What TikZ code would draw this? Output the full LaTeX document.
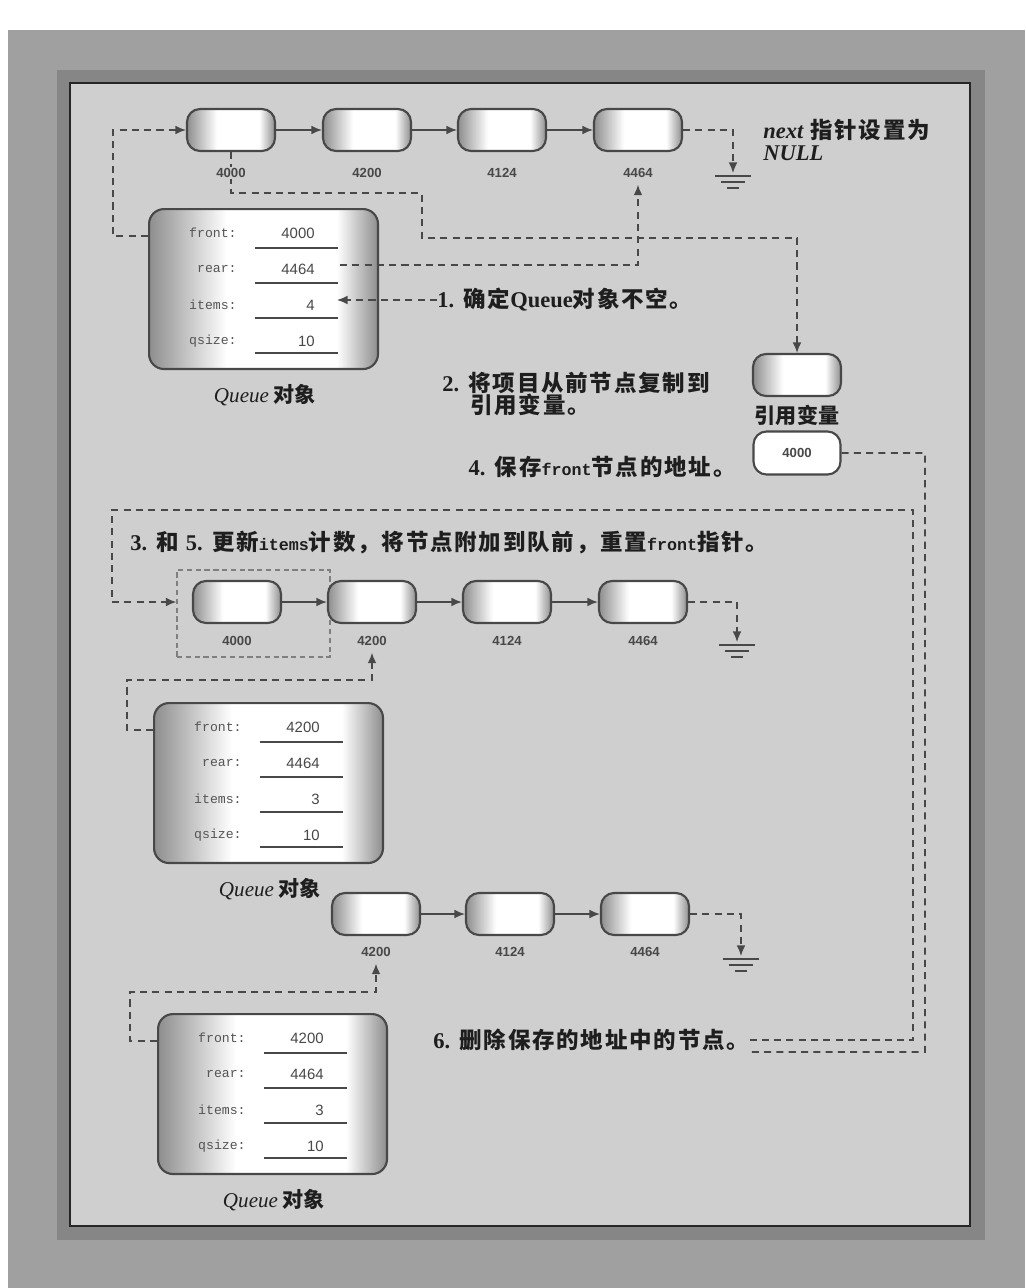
\documentclass[tikz,border=0pt]{standalone}
\usepackage{fontspec}
\setmainfont{Liberation Serif}
\setsansfont{Liberation Sans}
\setmonofont{Liberation Mono}
\newfontfamily\cjk{Noto Sans CJK SC}[LetterSpace=8]
\newfontfamily\cjklab{Noto Sans CJK SC}
\usetikzlibrary{arrows.meta}
\definecolor{outergray}{HTML}{A0A0A0}
\definecolor{shadowgray}{HTML}{868686}
\definecolor{panelgray}{HTML}{CFCFCF}
\definecolor{sgray}{HTML}{8E8E8E}
\definecolor{linegray}{HTML}{484848}
\definecolor{txt}{HTML}{1E1E1E}
\definecolor{fldgray}{HTML}{555555}
\pgfdeclarehorizontalshading{boxshade}{100bp}{color(0bp)=(sgray); color(25bp)=(sgray); color(42bp)=(white); color(66bp)=(white); color(75bp)=(sgray); color(100bp)=(sgray)}
\newcommand\latit[1]{{\rmfamily\itshape #1}}
\newcommand\mono[1]{{\ttfamily\fontsize{9.5}{10}\selectfont #1}}
\tikzset{
  lnode/.style={draw=linegray, line width=1.2pt, rounded corners=0.26cm,
    minimum width=1.76cm, minimum height=0.84cm, shading=boxshade, inner sep=0pt},
  savebox/.style={draw=linegray, line width=1.2pt, rounded corners=0.26cm, fill=white,
    minimum width=1.74cm, minimum height=0.86cm, inner sep=0pt,
    font=\sffamily\bfseries\fontsize{7.5}{8}\selectfont, text=linegray},
  qbody/.style={draw=linegray, line width=1.2pt, rounded corners=0.3cm,
    minimum width=4.58cm, minimum height=3.2cm, shading=boxshade, inner sep=0pt},
  addr/.style={font=\sffamily\bfseries\fontsize{7.5}{8}\selectfont, text=linegray,
    fill=panelgray, inner sep=1pt, outer sep=3pt},
  flab/.style={anchor=east, font=\ttfamily\fontsize{7.5}{8}\selectfont, text=fldgray, inner sep=0pt},
  fval/.style={anchor=east, font=\sffamily\fontsize{8.5}{9}\selectfont, text=linegray, inner sep=0pt},
  uline/.style={draw=linegray, line width=1.1pt},
  ptr/.style={draw=linegray, line width=0.9pt, dash pattern=on 4pt off 3pt},
  tip/.style={-{Latex[length=6pt,width=5pt]}},
  solidarr/.style={draw=linegray, line width=0.9pt, -{Latex[length=6pt,width=5pt]}},
  steptext/.style={font=\cjk\bfseries\fontsize{12.8}{14}\selectfont, text=txt, anchor=west, inner sep=0pt},
  qlabel/.style={font=\cjklab\bfseries\fontsize{12}{13}\selectfont, text=txt, inner sep=0pt},
  gline/.style={draw=linegray, line width=1.2pt},
  dashbox/.style={draw=linegray!70, line width=0.7pt, dash pattern=on 3pt off 2pt,
    minimum width=3.06cm, minimum height=1.74cm, inner sep=0pt}
}
\newcommand\queuebox[7]{%
  \node[qbody, anchor=north west] (#1) at (#2,#3) {};
  \node[flab] (#1-l1) at ([shift={(89,25)}]#1.north west) {front:};
  \node[flab] (#1-l2) at ([shift={(89,61)}]#1.north west) {rear:};
  \node[flab] (#1-l3) at ([shift={(89,97)}]#1.north west) {items:};
  \node[flab] (#1-l4) at ([shift={(89,133)}]#1.north west) {qsize:};
  \node[fval] (#1-v1) at ([shift={(167,25)}]#1.north west) {#4};
  \node[fval] (#1-v2) at ([shift={(167,61)}]#1.north west) {#5};
  \node[fval] (#1-v3) at ([shift={(167,97)}]#1.north west) {#6};
  \node[fval] (#1-v4) at ([shift={(167,133)}]#1.north west) {#7};
  \draw[uline] ([shift={(107,40)}]#1.north west) -- ([shift={(190,40)}]#1.north west);
  \draw[uline] ([shift={(107,75)}]#1.north west) -- ([shift={(190,75)}]#1.north west);
  \draw[uline] ([shift={(107,110)}]#1.north west) -- ([shift={(190,110)}]#1.north west);
  \draw[uline] ([shift={(107,145)}]#1.north west) -- ([shift={(190,145)}]#1.north west);
  \coordinate (#1-fw) at ([shift={(0,28)}]#1.north west);
  \coordinate (#1-re) at ([shift={(192,57)}]#1.north west);
  \coordinate (#1-ie) at ([shift={(189,92)}]#1.north west);
  \node[qlabel] (#1-lab) at ([shift={(117,187)}]#1.north west) {\latit{\mdseries Queue} 对象};
}
\newcommand\gnd[2]{%
  \draw[gline] (#1-18,#2) -- (#1+18,#2);
  \draw[gline] (#1-12,#2+6) -- (#1+12,#2+6);
  \draw[gline] (#1-6,#2+12) -- (#1+6,#2+12);
}
\begin{document}
\begin{tikzpicture}[x=0.02cm,y=-0.02cm]
\useasboundingbox (0,0) rectangle (1025,1288);
\fill[white] (0,0) rectangle (1025,1288);
\fill[outergray] (8,30) rectangle (1025,1288);
\fill[shadowgray] (57,70) rectangle (985,1240);
\fill[panelgray] (70,83) rectangle (970,1226);
\draw[black!85, line width=1pt] (70,83) rectangle (970,1226);

% ---------- row 1 ----------
\node[lnode] (n1) at (231,130) {};
\node[lnode] (n2) at (367,130) {};
\node[lnode] (n3) at (502,130) {};
\node[lnode] (n4) at (638,130) {};
\draw[solidarr] (n1) -- (n2);
\draw[solidarr] (n2) -- (n3);
\draw[solidarr] (n3) -- (n4);

\queuebox{q1}{148}{208}{4000}{4464}{4}{10}

\node[lnode] (ref) at (797,375) {};
\node[qlabel] (reflab) at (797,415) {引用变量};
\node[savebox] (saved) at (797,453) {4000};

\coordinate (g1) at (733,173);
\draw[ptr,tip] (n4.east) -- (733,130) -- (g1);
\gnd{733}{176}

\draw[ptr,tip] (q1-fw) -- (113,236) |- (n1.west);
\draw[ptr,tip] (n1.south) -- (231,193) -| (422,238) -| (ref.north);

\node[addr] (a1) at (231,173) {4000};
\node[addr] (a2) at (367,173) {4200};
\node[addr] (a3) at (502,173) {4124};
\node[addr] (a4) at (638,173) {4464};
\draw[ptr,tip] (q1-re) -| (a4.south);

\node[steptext] (nxt) at (763,130) {\latit{next} 指针设置为};
\node[steptext] (nul) at (763,153) {\latit{NULL}};

\node[steptext] (s1) at (437,300) {{\rmfamily 1.} 确定{\rmfamily Queue}对象不空。};
\draw[ptr,tip] (s1.west) -- (q1-ie);

\node[steptext] (s2a) at (442,383) {{\rmfamily 2.} 将项目从前节点复制到};
\node[steptext] (s2b) at (470,405) {引用变量。};

\node[steptext, anchor=east] (s4) at (736,467) {{\rmfamily 4.} 保存\mono{front}节点的地址。};

% ---------- row 2 ----------
\node[steptext] (s3) at (130,543) {{\rmfamily 3.} 和 {\rmfamily 5.} 更新\mono{items}计数，将节点附加到队前，重置\mono{front}指针。};

\node[dashbox] (dbox) at (253.5,613.5) {};
\node[lnode] (m1) at (237,602) {};
\node[lnode] (m2) at (372,602) {};
\node[lnode] (m3) at (507,602) {};
\node[lnode] (m4) at (643,602) {};
\draw[solidarr] (m1) -- (m2);
\draw[solidarr] (m2) -- (m3);
\draw[solidarr] (m3) -- (m4);
\node[addr] (b1) at (237,641) {4000};
\node[addr] (b2) at (372,641) {4200};
\node[addr] (b3) at (507,641) {4124};
\node[addr] (b4) at (643,641) {4464};

\coordinate (g2) at (737,642);
\draw[ptr,tip] (m4.east) -- (737,602) -- (g2);
\gnd{737}{645}

\queuebox{q2}{153}{702}{4200}{4464}{3}{10}
\draw[ptr,tip] (q2-fw) -- (127,730) |- (372,680) -- (b2.south);

% ---------- row 3 ----------
\node[lnode] (c1) at (376,914) {};
\node[lnode] (c2) at (510,914) {};
\node[lnode] (c3) at (645,914) {};
\draw[solidarr] (c1) -- (c2);
\draw[solidarr] (c2) -- (c3);
\node[addr] (d1) at (376,952) {4200};
\node[addr] (d2) at (510,952) {4124};
\node[addr] (d3) at (645,952) {4464};

\coordinate (g3) at (741,956);
\draw[ptr,tip] (c3.east) -- (741,914) -- (g3);
\gnd{741}{959}

\queuebox{q3}{157}{1013}{4200}{4464}{3}{10}
\draw[ptr,tip] (q3-fw) -- (130,1041) |- (376,992) -- (d1.south);

\node[steptext] (s6) at (433,1040) {{\rmfamily 6.} 删除保存的地址中的节点。};

% long dashed connectors
\draw[ptr,tip] (s6.east) -| (913,510) -| (112,602) -- (dbox.west |- m1.west);
\coordinate (e6b) at ([yshift=-0.24cm]s6.east);
\draw[ptr] (saved.east) -| (925,1052) -- (e6b);
\end{tikzpicture}
\end{document}
